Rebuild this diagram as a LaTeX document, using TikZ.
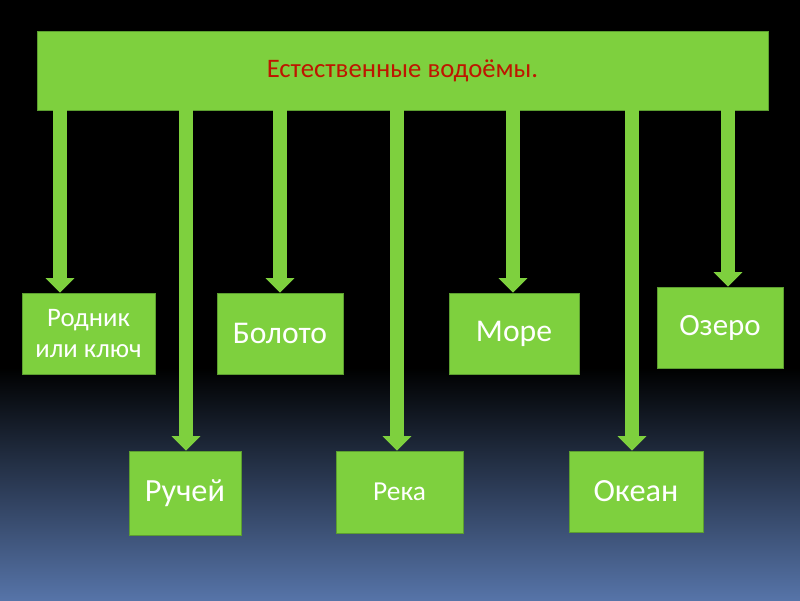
\documentclass[tikz,border=0pt]{standalone}
\usepackage{fontspec}
\setmainfont{Carlito}
\usepackage{tikz}
\usetikzlibrary{arrows.meta}

\definecolor{boxgreen}{RGB}{126,208,62}
\definecolor{edgegreen}{RGB}{92,158,48}
\definecolor{titlered}{RGB}{190,22,0}
\definecolor{skyblue}{RGB}{86,116,168}

\begin{document}
\begin{tikzpicture}[
    box/.style={draw=edgegreen, line width=0.6pt, fill=boxgreen,
      text=white, align=center, inner sep=0pt},
    arr/.style={draw=boxgreen, line width=0.33cm,
      -{Triangle[width=0.7cm, length=0.36cm]}}]
\useasboundingbox (0,0) rectangle (20,15);
\fill[black] (0,0) rectangle (20,15);
\shade[top color=black, bottom color=skyblue] (0,0) rectangle (20,5.8);
\node [box, minimum width=18.275cm, minimum height=1.975cm,
    text=titlered, font=\fontsize{19}{23}\selectfont]
    (top) at (10.0625,13.2375) {Естественные водоёмы.};
\node [box, minimum width=3.325cm, minimum height=2.025cm,
    font=\fontsize{19}{22.5}\selectfont]
    (rod) at (2.2125,6.6625) {Родник\\или ключ};
\node [box, minimum width=3.15cm, minimum height=2.025cm,
    font=\fontsize{22.5}{27}\selectfont]
    (bol) at (7.0,6.6625) {Болото};
\node [box, minimum width=3.25cm, minimum height=2.025cm,
    font=\fontsize{22.5}{27}\selectfont]
    (mor) at (12.85,6.6625) {Море};
\node [box, minimum width=3.15cm, minimum height=2.025cm,
    font=\fontsize{22}{26}\selectfont]
    (oz) at (18.0,6.8125) {Озеро};
\node [box, minimum width=2.8cm, minimum height=2.1cm,
    font=\fontsize{23}{27}\selectfont]
    (ruch) at (4.625,2.675) {Ручей};
\node [box, minimum width=3.175cm, minimum height=2.05cm,
    font=\fontsize{19.5}{23}\selectfont]
    (rek) at (9.9875,2.7) {Река};
\node [box, minimum width=3.35cm, minimum height=2.025cm,
    font=\fontsize{23}{27}\selectfont]
    (ok) at (15.9,2.7125) {Океан};
\draw [arr] (1.5,0 |- top.south) -- (1.5,0 |- rod.north);
\draw [arr] (4.65,0 |- top.south) -- (4.65,0 |- ruch.north);
\draw [arr] (7.0,0 |- top.south) -- (7.0,0 |- bol.north);
\draw [arr] (9.925,0 |- top.south) -- (9.925,0 |- rek.north);
\draw [arr] (12.825,0 |- top.south) -- (12.825,0 |- mor.north);
\draw [arr] (15.8,0 |- top.south) -- (15.8,0 |- ok.north);
\draw [arr] (18.2,0 |- top.south) -- (18.2,0 |- oz.north);
\end{tikzpicture}
\end{document}
